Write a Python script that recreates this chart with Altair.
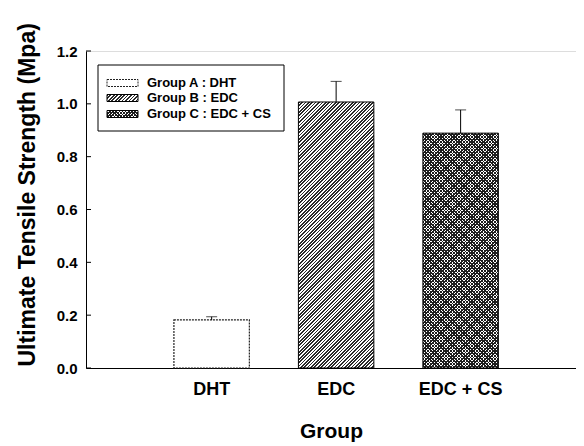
import math
import altair as alt
import pandas as pd

# ---- data ----
groups = ["DHT", "EDC", "EDC + CS"]
means = [0.182, 1.007, 0.889]
upper = [0.194, 1.085, 0.977]
legend_labels = ["Group A : DHT", "Group B : EDC", "Group C : EDC + CS"]
y_ticks = [0.0, 0.2, 0.4, 0.6, 0.8, 1.0, 1.2]

W, H = 490, 317
Y_MAX = 1.2
PAD_INNER, PAD_OUTER, ALIGN = 0.394, 0.665, 0.531
STEP = W / (len(groups) - PAD_INNER + 2 * PAD_OUTER)
BANDW = STEP * (1 - PAD_INNER)

df = pd.DataFrame({"group": groups, "mean": means, "upper": upper})
ticks_df = pd.DataFrame({"v": y_ticks})

FONT = "Liberation Sans"


def stripes(w, h, period, frac, dark, light, flip=False):
    """45-degree stripe gradient for a w x h box (objectBoundingBox units)."""
    k = (w + h) / (w * w + h * h)
    p, q = k * w, k * h
    n = max(1, int(round(((w + h) / math.sqrt(2)) / period)))
    stops = []
    for i in range(n):
        a = i / n
        b = (i + frac) / n
        c = (i + 1) / n
        stops += [alt.GradientStop(offset=a, color=dark),
                  alt.GradientStop(offset=b, color=dark),
                  alt.GradientStop(offset=b, color=light),
                  alt.GradientStop(offset=c, color=light)]
    if flip:
        return alt.LinearGradient(gradient="linear", stops=stops,
                                  x1=1, y1=0, x2=1 - p, y2=q)
    return alt.LinearGradient(gradient="linear", stops=stops,
                              x1=0, y1=0, x2=p, y2=q)


def bar_h(v):
    return v / Y_MAX * H


x_scale = alt.Scale(paddingInner=PAD_INNER, paddingOuter=PAD_OUTER, align=ALIGN)
x_enc = alt.X("group:N", sort=groups, scale=x_scale,
              axis=alt.Axis(title="Group", labelAngle=0, ticks=False, tickSize=0,
                            labelFontSize=18, labelFont=FONT, labelFontWeight="bold",
                            labelColor="black", labelPadding=12, labelBaseline="top",
                            titleFontSize=21, titleFont=FONT, titleFontWeight="bold",
                            titleColor="black", titlePadding=22,
                            domainColor="black", domainWidth=1))
y_enc = alt.Y("mean:Q",
              scale=alt.Scale(domain=[0, Y_MAX], nice=False),
              axis=alt.Axis(title="Ultimate Tensile Strength (Mpa)", values=y_ticks,
                            format=".1f", ticks=False, tickSize=0, grid=False,
                            labelFontSize=15, labelFont=FONT, labelFontWeight="bold",
                            labelColor="black", labelPadding=9,
                            titleFontSize=23, titleFont=FONT, titleFontWeight="bold",
                            titleColor="black", titleAngle=270, titleAlign="left",
                            titleBaseline="top", titleX=-70, titleY=H - 2,
                            domainColor="black", domainWidth=1))

base = alt.Chart(df)

# DHT: open bar with dotted outline
bar_a = base.transform_filter(alt.datum.group == groups[0]).mark_bar(
    fill="white", stroke="#222", strokeWidth=1.2, strokeDash=[2, 1]
).encode(x=x_enc, y=y_enc)

# EDC: diagonal hatch
gB = stripes(BANDW, bar_h(means[1]), 2.4, 0.5, "#2a2a2a", "#ffffff")
bar_b = base.transform_filter(alt.datum.group == groups[1]).mark_bar(
    fill=gB, stroke="black", strokeWidth=1
).encode(x=x_enc, y=y_enc)

# EDC + CS: cross hatch
gC1 = stripes(BANDW, bar_h(means[2]), 2.3, 0.47, "#1e1e1e", "#ffffff")
gC2 = stripes(BANDW, bar_h(means[2]), 2.3, 0.47, "#1e1e1e", "rgba(255,255,255,0)", flip=True)
bar_c1 = base.transform_filter(alt.datum.group == groups[2]).mark_bar(
    fill=gC1, strokeWidth=0
).encode(x=x_enc, y=y_enc)
bar_c2 = base.transform_filter(alt.datum.group == groups[2]).mark_bar(
    fill=gC2, stroke="black", strokeWidth=1
).encode(x=x_enc, y=y_enc)

# error bars (upper only)
err_x = alt.X("group:N", sort=groups, scale=x_scale)
err_line = base.mark_rule(color="black", strokeWidth=1).encode(
    x=err_x, y="mean:Q", y2="upper:Q")
err_cap = base.mark_tick(color="black", thickness=1, size=11, orient="horizontal").encode(
    x=err_x, y="upper:Q")

# inward y ticks
yticks = alt.Chart(ticks_df).mark_rule(color="black", strokeWidth=1).encode(
    y=alt.Y("v:Q"), x=alt.value(0), x2=alt.value(5))

# legend (manual, to show patterns)
leg_df = pd.DataFrame({"label": legend_labels})
one = alt.Chart(pd.DataFrame({"k": [0]}))
leg_box = one.mark_rect(fill="white", stroke="black", strokeWidth=1).encode(
    x=alt.value(12), x2=alt.value(198), y=alt.value(14), y2=alt.value(80))

SW_W, SW_H = 31, 7
rows_y = [32, 47, 63]
sw_a = one.mark_rect(fill="white", stroke="#222", strokeWidth=1, strokeDash=[2, 1]).encode(
    x=alt.value(21), x2=alt.value(21 + SW_W),
    y=alt.value(rows_y[0] - SW_H / 2), y2=alt.value(rows_y[0] + SW_H / 2))
sw_b = one.mark_rect(fill=stripes(SW_W, SW_H, 2.4, 0.5, "#2a2a2a", "#ffffff"),
                     stroke="black", strokeWidth=1).encode(
    x=alt.value(21), x2=alt.value(21 + SW_W),
    y=alt.value(rows_y[1] - SW_H / 2), y2=alt.value(rows_y[1] + SW_H / 2))
sw_c1 = one.mark_rect(fill=stripes(SW_W, SW_H, 2.3, 0.47, "#1e1e1e", "#ffffff"),
                      strokeWidth=0).encode(
    x=alt.value(21), x2=alt.value(21 + SW_W),
    y=alt.value(rows_y[2] - SW_H / 2), y2=alt.value(rows_y[2] + SW_H / 2))
sw_c2 = one.mark_rect(fill=stripes(SW_W, SW_H, 2.3, 0.47, "#1e1e1e", "rgba(255,255,255,0)", flip=True),
                      stroke="black", strokeWidth=1).encode(
    x=alt.value(21), x2=alt.value(21 + SW_W),
    y=alt.value(rows_y[2] - SW_H / 2), y2=alt.value(rows_y[2] + SW_H / 2))

leg_text = alt.layer(*[
    alt.Chart(leg_df).transform_filter(alt.datum.label == lab).mark_text(
        align="left", baseline="middle", font=FONT, fontWeight="bold",
        fontSize=13, color="black").encode(
        x=alt.value(61), y=alt.value(ry), text="label:N")
    for lab, ry in zip(legend_labels, rows_y)
])

chart = alt.layer(
    bar_a, bar_b, bar_c1, bar_c2, err_line, err_cap, yticks,
    leg_box, sw_a, sw_b, sw_c1, sw_c2, leg_text
).properties(
    width=W, height=H,
    autosize=alt.AutoSizeParams(type="none"),
    padding={"left": 78, "top": 43, "right": 0, "bottom": 78},
).configure_view(
    stroke="#444", strokeWidth=1
).configure(background="white")

chart.save("out.html", embed_options={"renderer": "svg", "actions": False})
